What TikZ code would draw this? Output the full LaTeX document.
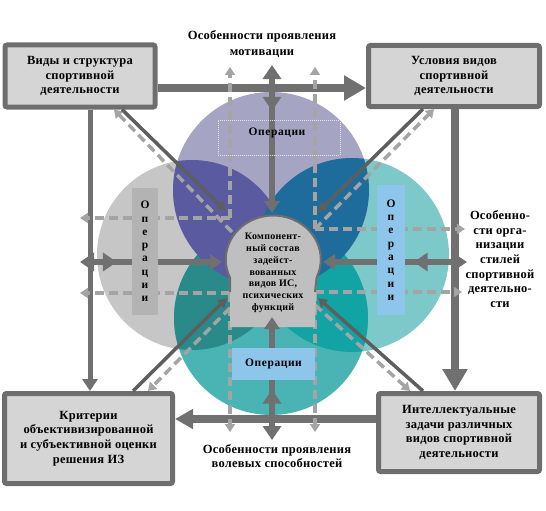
\documentclass[tikz,border=0pt]{standalone}
\usepackage{fontspec}
\setmainfont{Liberation Serif}
\usetikzlibrary{arrows.meta,decorations.markings}

\definecolor{boxfill}{HTML}{D5D5D5}
\definecolor{boxline}{HTML}{6E6E6E}
\definecolor{arrgray}{HTML}{707070}
\definecolor{diaggray}{HTML}{5E5E5E}
\definecolor{dashgray}{HTML}{A4A4A4}
\definecolor{topc}{HTML}{A5A5C3}
\definecolor{leftc}{HTML}{C6C6C6}
\definecolor{rightc}{HTML}{7DC9C9}
\definecolor{botc}{HTML}{4AB3B3}
\definecolor{tlc}{HTML}{5A5AA0}
\definecolor{trc}{HTML}{1E6C9C}
\definecolor{blc}{HTML}{2A8A8A}
\definecolor{brc}{HTML}{12A4A4}
\definecolor{opblue}{HTML}{8EC5EA}
\definecolor{opgray}{HTML}{B3B3B3}
\definecolor{headc}{HTML}{BFBFBF}

\tikzset{
  sbox/.style={draw=boxline,fill=boxfill,line width=5pt,rounded corners=2pt,align=center,inner sep=0pt,
    font=\bfseries\fontsize{12.5}{14.6}\selectfont\addfontfeature{LetterSpace=2}},
  lbl/.style={align=center,font=\bfseries\fontsize{12.5}{14.6}\selectfont\addfontfeature{LetterSpace=2}},
  oper/.style={inner sep=0pt,align=center,font=\bfseries\fontsize{11.5}{13.3}\selectfont\addfontfeature{LetterSpace=5}},
  bigarr/.style={draw=arrgray,line width=8pt,-{Triangle[length=22pt,width=24pt]}},
  cross/.style={draw=arrgray,line width=6pt,{Triangle[length=12pt,width=15pt]}-{Triangle[length=14pt,width=18pt]}},
  backhead/.style={postaction={decorate},decoration={markings,
    mark=at position #1 with {\arrowreversed{Triangle[length=14pt,width=18pt]}}}},
  dashline/.style={draw=dashgray,line width=3.5pt,dash pattern=on 9pt off 5pt,-{Triangle[length=8pt,width=10pt]}},
  diag/.style={draw=diaggray,line width=3.5pt,-{Triangle[length=9pt,width=10pt]}}
}

\begin{document}
\begin{tikzpicture}[x=1pt,y=-1pt]
\useasboundingbox (0,0) rectangle (546,511);

\fill[leftc] (192,255) circle (95);
\fill[rightc] (352,255) circle (97);
\fill[botc] (271,318) circle (97);
\fill[topc] (271,190) circle (98);
\begin{scope}
  \clip (271,318) circle (97);
  \fill[blc] (192,255) circle (95);
  \fill[brc] (352,255) circle (97);
\end{scope}
\begin{scope}
  \clip (271,190) circle (98);
  \fill[tlc] (192,255) circle (95);
  \fill[trc] (352,255) circle (97);
\end{scope}

\node[sbox,minimum width=150,minimum height=62] (vidy) at (80,76) {Виды и структура\\спортивной\\деятельности};
\node[sbox,minimum width=171,minimum height=61] (uslov) at (454,76) {Условия видов\\спортивной\\деятельности};
\node[sbox,minimum width=168,minimum height=90] (krit) at (88.5,438.5) {Критерии\\объективизированной\\и субъективной оценки\\решения ИЗ};
\node[sbox,minimum width=161,minimum height=78] (zadachi) at (459,432.5) {Интеллектуальные\\задачи различных\\видов спортивной\\деятельности};

\node[lbl,font=\bfseries\fontsize{12.5}{16}\selectfont\addfontfeature{LetterSpace=2}] (motiv) at (262,44) {Особенности проявления\\мотивации};
\node[lbl] (volev) at (277,456) {Особенности проявления\\волевых способностей};
\node[lbl] (stil) at (500,259) {Особенно-\\сти орга-\\низации\\стилей\\спортивной\\деятельно-\\сти};

\draw[bigarr] (vidy.east |- 0,88) -- (uslov.west |- 0,88);
\draw[bigarr] (uslov.south -| 455,0) -- (zadachi.north -| 455,0);
\draw[bigarr,-{Triangle[length=18pt,width=19pt]}] (zadachi.west |- 0,419) -- (krit.east |- 0,419);
\draw[bigarr,line width=5pt,-{Triangle[length=12pt,width=15pt]}] (vidy.south -| 90,0) -- (krit.north -| 90,0);

\coordinate (dTL) at (230,218);
\coordinate (dTR) at (315,229);
\coordinate (dBL) at (230,293);
\coordinate (dBR) at (315,292);
\draw[dashline] (dTL) -- (230,67);
\draw[dashline] (dTL) -- (80,218);
\draw[dashline] (232,232) -- (vidy.south -| 114,0);
\draw[dashline] (dTR) -- (315,67);
\draw[dashline] (dTR) -- (465,229);
\draw[dashline] (dTR) -- (uslov.south -| 434,0);
\draw[dashline] (dBL) -- (230,432);
\draw[dashline] (dBL) -- (80,293);
\draw[dashline] (230,308) -- (krit.north -| 148,0);
\draw[dashline] (dBR) -- (315,432);
\draw[dashline] (dBR) -- (462,292);
\draw[dashline] (315,305) -- (zadachi.north -| 410,0);

\draw[diag] (vidy.south -| 122,0) -- (226,211);
\draw[diag] (uslov.south -| 423,0) -- (318,212);
\draw[diag] (krit.north -| 133,0) -- (227,298);
\draw[diag] (zadachi.north -| 423,0) -- (318,298);

\fill[headc] (230,327) -- (230,277.6) arc[start angle=155.7, end angle=384.3, x radius=47.5, y radius=44] -- (315,327) -- cycle;
\draw[boxline,line width=2pt] (230,292) -- (230,277.6) arc[start angle=155.7, end angle=384.3, x radius=47.5, y radius=44] -- (315,292);
\node[inner sep=0pt,align=center,font=\bfseries\fontsize{10}{11.8}\selectfont\addfontfeature{LetterSpace=3}] (komp) at (273,273)
  {Компонент-\\ный состав\\задейст-\\вованных\\видов ИС,\\психических\\функций};

\draw[cross,backhead=0.69] (272,213) -- (272,65);
\draw[cross,backhead=0.59] (272,317) -- (272,440);
\draw[cross,backhead=0.74] (222,262) -- (80,262);
\draw[cross,backhead=0.63] (323,262) -- (467,262);

\node[draw=white!70!topc,densely dotted,line width=1pt,minimum width=122,minimum height=35] (opT) at (279,137.5) {};
\node[oper] at (277,133) {Операции};
\node[oper,fill=opgray,minimum width=26,minimum height=127] (opL) at (145,251.5) {О\\п\\е\\р\\а\\ц\\и\\и};
\node[oper,fill=opblue,minimum width=28,minimum height=130] (opR) at (391,250) {О\\п\\е\\р\\а\\ц\\и\\и};
\node[oper,fill=opblue,minimum width=83,minimum height=32] (opB) at (273.5,364) {Операции};
\end{tikzpicture}
\end{document}
